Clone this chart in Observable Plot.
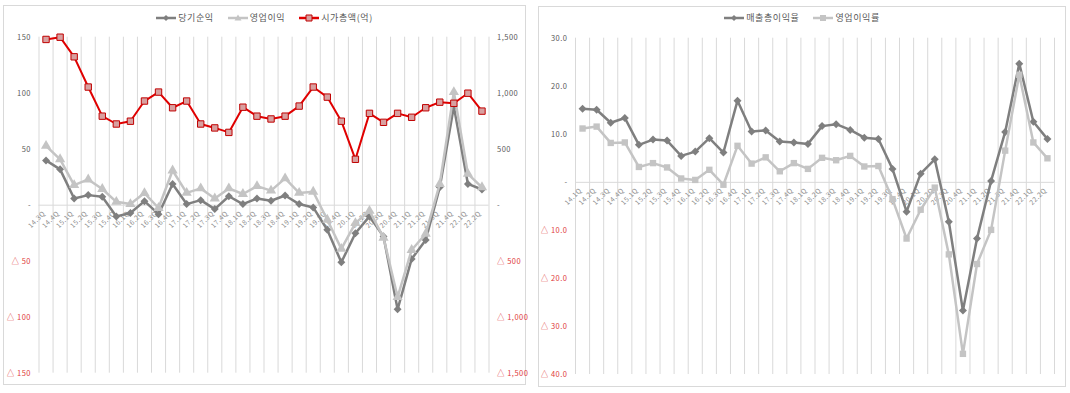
<!DOCTYPE html>
<html><head><meta charset="utf-8">
<script src="https://cdn.jsdelivr.net/npm/d3@7"></script>
<script src="https://cdn.jsdelivr.net/npm/@observablehq/plot@0.6"></script>
<style>
body{margin:0;background:#fff;font-family:"Noto Sans CJK KR","Noto Sans",sans-serif;}
#root{position:relative;width:1070px;height:393px;overflow:hidden;background:#fff;}
.panel{position:absolute;border:1px solid #d9d9d9;box-sizing:border-box;}
.chart{position:absolute;top:0;}
.legend{position:absolute;display:flex;justify-content:center;align-items:center;font-size:9px;color:#595959;white-space:nowrap;letter-spacing:0.6px;}
.legend .item{display:flex;align-items:center;margin:0 7px;}
.legend svg{margin-right:2px;}
g[aria-label="xlabels"]{letter-spacing:1.1px;}
</style></head>
<body><div id="root">
<div class="panel" style="left:3px;top:5px;width:523px;height:380px;"></div>
<div class="panel" style="left:538px;top:6px;width:528px;height:381px;"></div>
</div>
<script>
// ---------- data ----------
const leftQuarters = ["14.3Q","14.4Q","15.1Q","15.2Q","15.3Q","15.4Q","16.1Q","16.2Q","16.3Q","16.4Q","17.1Q","17.2Q","17.3Q","17.4Q","18.1Q","18.2Q","18.3Q","18.4Q","19.1Q","19.2Q","19.3Q","19.4Q","20.1Q","20.2Q","20.3Q","20.4Q","21.1Q","21.2Q","21.3Q","21.4Q","22.1Q","22.2Q"];
const netIncome = [40, 32, 6, 9, 7.5, -10, -7, 3.6, -8, 19, 1, 4.5, -3.5, 8, 1, 6, 4, 8.7, 1, -2, -22, -51, -25, -10, -28, -93, -48, -31, 16, 88, 19, 14];
const operatingIncome = [53, 41, 18, 23, 14.5, 3, 1, 10.8, -2.5, 31, 11, 15, 6, 15, 10, 17, 13, 24, 11, 12, -13, -39, -16, -5, -29, -82, -40, -25.5, 19, 101, 28, 16];
const marketCap = [1480, 1500, 1325, 1055, 795, 725, 750, 930, 1010, 870, 930, 725, 690, 650, 875, 795, 770, 795, 885, 1055, 965, 750, 410, 820, 740, 820, 785, 870, 920, 910, 1000, 840];
const leftTickValues = [150, 100, 50, 0, -50, -100, -150];
const leftTickLabels = ["150", "100", "50", "-", "△ 50", "△ 100", "△ 150"];
const capTickValues = [1500, 1000, 500, 0, -500, -1000, -1500];
const capTickLabels = ["1,500", "1,000", "500", "-", "△ 500", "△ 1,000", "△ 1,500"];

const rightQuarters = ["14.1Q","14.2Q","14.3Q","14.4Q","15.1Q","15.2Q","15.3Q","15.4Q","16.1Q","16.2Q","16.3Q","16.4Q","17.1Q","17.2Q","17.3Q","17.4Q","18.1Q","18.2Q","18.3Q","18.4Q","19.1Q","19.2Q","19.3Q","19.4Q","20.1Q","20.2Q","20.3Q","20.4Q","21.1Q","21.2Q","21.3Q","21.4Q","22.1Q","22.2Q"];
const grossMargin = [15.3, 15.1, 12.4, 13.4, 7.8, 8.9, 8.7, 5.5, 6.4, 9.2, 6.2, 17.0, 10.6, 10.8, 8.5, 8.3, 8.0, 11.7, 12.1, 10.9, 9.3, 9.0, 2.8, -6.1, 1.8, 4.8, -8.2, -26.7, -11.7, 0.3, 10.5, 24.7, 12.6, 9.0];
const opMargin = [11.2, 11.6, 8.2, 8.3, 3.2, 4.0, 3.1, 0.8, 0.5, 2.6, -0.5, 7.6, 3.9, 5.2, 2.3, 4.0, 2.8, 5.1, 4.6, 5.5, 3.3, 3.4, -3.5, -11.7, -5.7, -1.1, -15.0, -35.7, -17.0, -9.9, 6.6, 22.4, 8.3, 5.0];
const rightTickValues = [30, 20, 10, 0, -10, -20, -30, -40];
const rightTickLabels = ["30.0", "20.0", "10.0", "-", "△ 10.0", "△ 20.0", "△ 30.0", "△ 40.0"];

const leftLegend = [
  {name: "당기순익", color: "#7f7f7f", symbol: "diamond"},
  {name: "영업이익", color: "#c4c4c4", symbol: "triangle"},
  {name: "시가총액(억)", color: "#e00000", symbol: "square", fill: "#d8a0a0"}
];
const rightLegend = [
  {name: "매출총이익율", color: "#7f7f7f", symbol: "diamond"},
  {name: "영업이익률", color: "#c4c4c4", symbol: "square"}
];

// ---------- styles ----------
const DARK = "#7f7f7f", LIGHT = "#c4c4c4", RED = "#e00000", RED_FILL = "#d8a0a0";
const GRID = "#d9d9d9", LABEL = "#595959", NEG = "#e03a3a", XLAB = "#8c8c8c";
const FONT = '"Noto Sans CJK KR","Noto Sans",sans-serif';
const idx = (d, i) => i;
const tickColor = v => v < 0 ? NEG : LABEL;

function xLabels(q) {
  return Plot.text(q, {x: idx, y: () => 0, text: d => d, rotate: -45, textAnchor: "end",
    dx: -2, dy: 7, fontSize: 6.8, fill: XLAB, ariaLabel: "xlabels"});
}

const root = document.getElementById("root");

// ---------- left chart ----------
const leftChart = Plot.plot({
  width: 530, height: 393,
  marginLeft: 38.5, marginRight: 41.5, marginTop: 36.7, marginBottom: 20.3,
  x: {domain: [-0.5, leftQuarters.length - 0.5], axis: null},
  y: {domain: [-150, 150], axis: null},
  style: {background: "none", overflow: "visible", fontFamily: FONT, maxWidth: "none", letterSpacing: "0.5px"},
  marks: [
    Plot.ruleX(d3.range(leftQuarters.length + 1).map(i => i - 0.5), {stroke: GRID}),
    Plot.ruleY([0], {stroke: GRID}),
    xLabels(leftQuarters),
    Plot.text(leftTickValues, {y: d => d, text: (d, i) => leftTickLabels[i], frameAnchor: "left",
      textAnchor: "end", dx: -8, fontSize: 7.5, fill: tickColor}),
    Plot.text(capTickValues, {y: d => d / 10, text: (d, i) => capTickLabels[i], frameAnchor: "right",
      textAnchor: "start", dx: 8, fontSize: 7.5, fill: tickColor}),
    Plot.line(netIncome, {x: idx, y: d => d, stroke: DARK, strokeWidth: 2.5}),
    Plot.dot(netIncome, {x: idx, y: d => d, symbol: "diamond2", r: 3.6, fill: DARK}),
    Plot.line(operatingIncome, {x: idx, y: d => d, stroke: LIGHT, strokeWidth: 2.5}),
    Plot.dot(operatingIncome, {x: idx, y: d => d, symbol: "triangle", r: 3.8, fill: LIGHT}),
    Plot.line(marketCap, {x: idx, y: d => d / 10, stroke: RED, strokeWidth: 2}),
    Plot.dot(marketCap, {x: idx, y: d => d / 10, symbol: "square", r: 3.6, fill: RED_FILL, stroke: "#c00000", strokeWidth: 1})
  ]
});
leftChart.classList.add("chart");
leftChart.style.left = "0px";
root.appendChild(leftChart);

// ---------- right chart ----------
const rightChart = Plot.plot({
  width: 535, height: 393,
  marginLeft: 40, marginRight: 16, marginTop: 37.7, marginBottom: 19,
  x: {domain: [-0.5, rightQuarters.length - 0.5], axis: null},
  y: {domain: [-40, 30], axis: null},
  style: {background: "none", overflow: "visible", fontFamily: FONT, maxWidth: "none", letterSpacing: "0.5px"},
  marks: [
    Plot.ruleX(d3.range(rightQuarters.length + 1).map(i => i - 0.5), {stroke: GRID}),
    Plot.ruleY([0], {stroke: GRID}),
    xLabels(rightQuarters),
    Plot.text(rightTickValues, {y: d => d, text: (d, i) => rightTickLabels[i], frameAnchor: "left",
      textAnchor: "end", dx: -8, fontSize: 7.5, fill: tickColor}),
    Plot.line(grossMargin, {x: idx, y: d => d, stroke: DARK, strokeWidth: 2.5}),
    Plot.dot(grossMargin, {x: idx, y: d => d, symbol: "diamond2", r: 3.6, fill: DARK}),
    Plot.line(opMargin, {x: idx, y: d => d, stroke: LIGHT, strokeWidth: 2.5}),
    Plot.dot(opMargin, {x: idx, y: d => d, symbol: "square", r: 3.6, fill: LIGHT})
  ]
});
rightChart.classList.add("chart");
rightChart.style.left = "535px";
root.appendChild(rightChart);

// ---------- legends ----------
function symbolPath(sym) {
  if (sym === "diamond") return "M10,2 L13,5 L10,8 L7,5 Z";
  if (sym === "triangle") return "M10,1.5 L13.5,7.5 L6.5,7.5 Z";
  return "M7,2 L13,2 L13,8 L7,8 Z";
}
function legend(items, left, width, top) {
  const div = document.createElement("div");
  div.className = "legend";
  div.style.left = left + "px"; div.style.width = width + "px"; div.style.top = top + "px";
  for (const it of items) {
    const item = document.createElement("div");
    item.className = "item";
    item.innerHTML = `<svg width="20" height="10"><line x1="0" y1="5" x2="20" y2="5" stroke="${it.color}" stroke-width="2.5"/>` +
      `<path d="${symbolPath(it.symbol)}" fill="${it.fill || it.color}" stroke="${it.fill ? "#c00000" : "none"}" stroke-width="1"/></svg><span>${it.name}</span>`;
    div.appendChild(item);
  }
  root.appendChild(div);
}
legend(leftLegend, 3, 523, 11);
legend(rightLegend, 538, 528, 11);
</script>
</body></html>
